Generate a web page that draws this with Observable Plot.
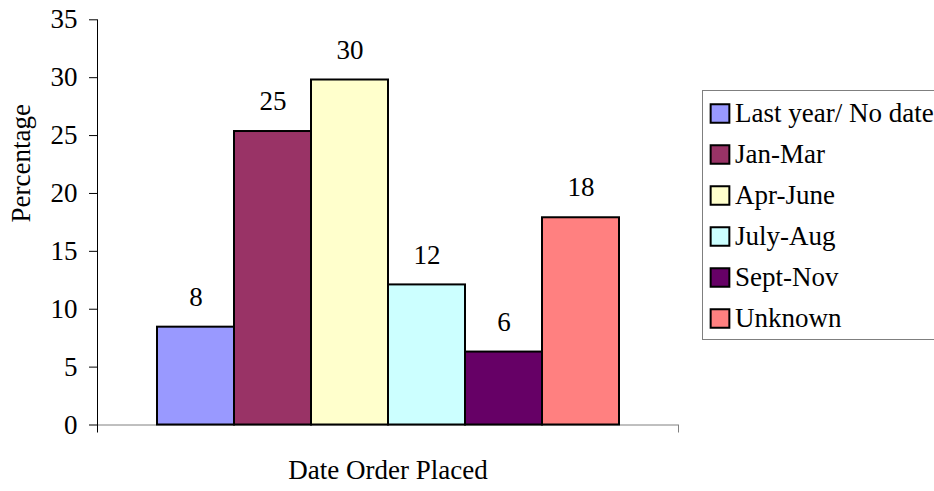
<!DOCTYPE html>
<html><head><meta charset="utf-8">
<script src="https://cdn.jsdelivr.net/npm/d3@7"></script>
<script src="https://cdn.jsdelivr.net/npm/@observablehq/plot@0.6"></script>
<style>
html,body{margin:0;padding:0;background:#fff;overflow:hidden;}
#wrap{position:relative;width:934px;height:491px;overflow:hidden;}
#wrap svg, #wrap svg text{font-family:"Liberation Serif","Times New Roman",serif !important;}
#legend{position:absolute;left:702px;top:90px;width:260px;height:250px;border:1.5px solid #7f7f7f;box-sizing:border-box;background:#fff;}
</style></head><body><div id="wrap"><div id="chart"></div><div id="legend"></div></div>
<script>
const categories = ["Last year/ No date","Jan-Mar","Apr-June","July-Aug","Sept-Nov","Unknown"];
const values = [8.45, 25.35, 29.8, 12.1, 6.3, 17.9];
const labels = ["8","25","30","12","6","18"];
const colors = ["#9999FF","#993366","#FFFFCC","#CCFFFF","#660066","#FF8080"];
const yTicks = [0,5,10,15,20,25,30,35];
const yTitle = "Percentage";
const xTitle = "Date Order Placed";

const data = categories.map((c,i)=>({category:c, value:values[i], label:labels[i]}));
const font = "Liberation Serif";

function axisLines(index, scales, vals, dims) {
  const y0 = scales.y(0), y1 = scales.y(yTicks[yTicks.length-1]);
  const l = dims.marginLeft + 0.5, r = dims.width - dims.marginRight + 0.5;
  const g = d3.create("svg:g").attr("fill","none");
  g.append("path").attr("d", `M${l},${y1}V${y0+8}`).attr("stroke","#000");
  g.append("path").attr("d", `M${r},${y0}V${y0+8}`).attr("stroke","#808080");
  return g.node();
}

const chart = Plot.plot({
  width: 934, height: 491,
  marginLeft: 97, marginRight: 256, marginTop: 19.3, marginBottom: 66.5,
  style: {fontFamily: font, fontSize: "27px", color: "#000", background: "#fff", overflow: "visible"},
  x: {type: "band", domain: categories, paddingInner: 0, paddingOuter: 0.747, axis: null},
  y: {domain: [0, 35], axis: null},
  color: {domain: categories, range: colors},
  marks: [
    Plot.ruleY([0], {stroke: "#808080"}),
    Plot.barY(data, {x: "category", y: "value", fill: "category", stroke: "#000", strokeWidth: 2}),
    Plot.axisY(yTicks, {tickSize: 8, tickPadding: 12, label: null, stroke: "#000", fill: "#000", fontFamily: font}),
    axisLines,
    Plot.text(data, {x: "category", y: "value", text: "label", dy: -30, fill: "#000", fontFamily: font}),
    Plot.text([yTitle], {text: d => d, frameAnchor: "left", rotate: -90, dx: -76, fill: "#000", fontFamily: font}),
    Plot.text([xTitle], {text: d => d, frameAnchor: "bottom", dy: 54, fill: "#000", fontFamily: font})
  ]
});
document.getElementById("chart").appendChild(chart);

const legend = Plot.plot({
  width: 257, height: 247,
  marginLeft: 0, marginRight: 0, marginTop: 21.2, marginBottom: 18.5,
  style: {fontFamily: font, fontSize: "27px", color: "#000", background: "#fff"},
  y: {type: "point", domain: categories, padding: 0, axis: null},
  color: {domain: categories, range: colors},
  marks: [
    Plot.dot(categories, {y: d => d, fill: d => d, symbol: "square", r: 10.55, stroke: "#000", strokeWidth: 2, frameAnchor: "left", dx: 16.5}),
    Plot.text(categories, {y: d => d, text: d => d, frameAnchor: "left", dx: 31.5, textAnchor: "start", fill: "#000", fontFamily: font})
  ]
});
document.getElementById("legend").appendChild(legend);
</script></body></html>
